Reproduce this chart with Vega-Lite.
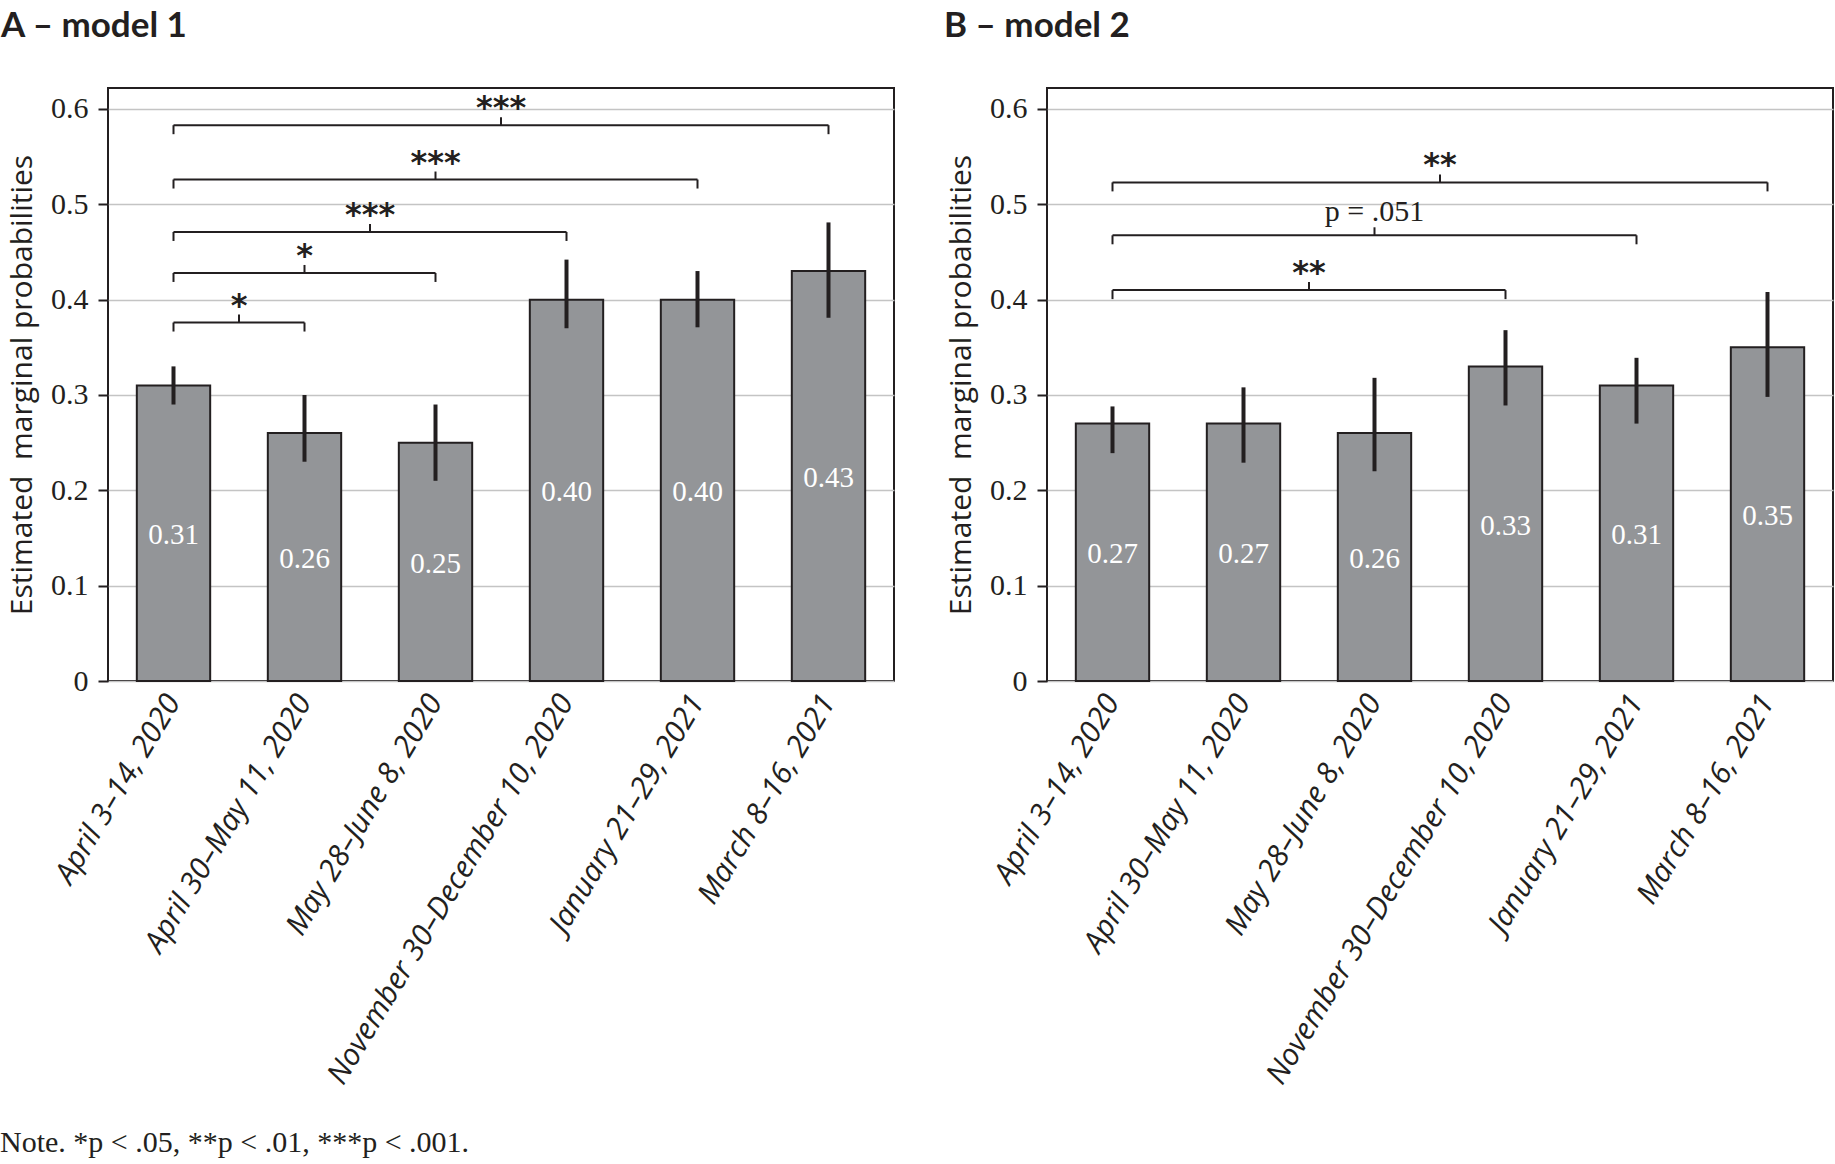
{
  "$schema": "https://vega.github.io/schema/vega-lite/v6.json",
  "background": "white",
  "padding": {"left": 0, "top": 8, "right": 2, "bottom": 2},
  "datasets": {
    "barsA": [
      {"period": "April 3–14, 2020", "value": 0.31, "lo": 0.29, "hi": 0.33},
      {"period": "April 30–May 11, 2020", "value": 0.26, "lo": 0.23, "hi": 0.30},
      {"period": "May 28–June 8, 2020", "value": 0.25, "lo": 0.21, "hi": 0.29},
      {"period": "November 30–December 10, 2020", "value": 0.40, "lo": 0.37, "hi": 0.442},
      {"period": "January 21–29, 2021", "value": 0.40, "lo": 0.371, "hi": 0.43},
      {"period": "March 8–16, 2021", "value": 0.43, "lo": 0.381, "hi": 0.481}
    ],
    "barsB": [
      {"period": "April 3–14, 2020", "value": 0.27, "lo": 0.239, "hi": 0.288},
      {"period": "April 30–May 11, 2020", "value": 0.27, "lo": 0.229, "hi": 0.308},
      {"period": "May 28–June 8, 2020", "value": 0.26, "lo": 0.22, "hi": 0.318},
      {"period": "November 30–December 10, 2020", "value": 0.33, "lo": 0.289, "hi": 0.368},
      {"period": "January 21–29, 2021", "value": 0.31, "lo": 0.27, "hi": 0.339},
      {"period": "March 8–16, 2021", "value": 0.35, "lo": 0.298, "hi": 0.408}
    ],
    "brA": [
      {"from": 1, "to": 6, "level": 0.583, "label": "***"},
      {"from": 1, "to": 5, "level": 0.526, "label": "***"},
      {"from": 1, "to": 4, "level": 0.471, "label": "***"},
      {"from": 1, "to": 3, "level": 0.428, "label": "*"},
      {"from": 1, "to": 2, "level": 0.376, "label": "*"}
    ],
    "brB": [
      {"from": 1, "to": 6, "level": 0.523, "label": "**"},
      {"from": 1, "to": 5, "level": 0.4675, "label": "p = .051"},
      {"from": 1, "to": 4, "level": 0.41, "label": "**"}
    ]
  },
  "title": {
    "text": "Note. *p < .05, **p < .01, ***p < .001.",
    "orient": "bottom",
    "anchor": "start",
    "frame": "bounds",
    "font": "Liberation Serif",
    "fontSize": 30,
    "fontWeight": "normal",
    "color": "#231f20",
    "offset": 38
  },
  "bounds": "flush",
  "spacing": 153,
  "hconcat": [
    {
      "title": {"text": "A – model 1", "anchor": "start", "frame": "group", "dx": -107, "offset": 44, "font": "Lato", "fontSize": 35, "fontWeight": "bold", "color": "#231f20"},
      "width": 786,
      "height": 593,
      "resolve": {"scale": {"x": "independent", "y": "independent"}},
      "layer": [
        {
          "data": {"name": "barsA"},
          "mark": {"type": "bar", "fill": "#939598", "stroke": "#231f20", "strokeWidth": 2},
          "encoding": {
            "x": {"field": "period", "type": "nominal", "sort": null,
              "scale": {"paddingInner": 0.44, "paddingOuter": 0.22},
              "axis": {"title": null, "labelAngle": -59, "labelAlign": "right", "labelBaseline": "middle", "ticks": false, "domain": false, "labelFont": "Open Sans", "labelFontStyle": "italic", "labelFontSize": 30, "labelPadding": 16, "labelColor": "#231f20", "labelLimit": 0, "labelOverlap": false, "grid": false}},
            "y": {"field": "value", "type": "quantitative",
              "scale": {"domain": [0, 0.622], "nice": false, "zero": true},
              "axis": {"title": "Estimated\u00a0 marginal probabilities", "values": [0, 0.1, 0.2, 0.3, 0.4, 0.5, 0.6], "labelExpr": "datum.value == 0 ? '0' : format(datum.value, '.1f')", "grid": true, "gridColor": "#c4c4c4", "gridWidth": 1.5, "domain": false, "ticks": true, "tickSize": 10, "tickWidth": 2, "tickColor": "#231f20", "labelFont": "Liberation Serif", "labelFontSize": 30, "labelColor": "#231f20", "labelPadding": 10, "titleFont": "Open Sans", "titleFontSize": 30, "titleFontWeight": "normal", "titleColor": "#231f20", "titlePadding": 13}}
          }
        },
        {
          "data": {"name": "barsA"},
          "mark": {"type": "rule", "color": "#231f20", "strokeWidth": 4},
          "encoding": {
            "x": {"field": "period", "type": "nominal", "sort": null, "scale": {"type": "band", "paddingInner": 0.44, "paddingOuter": 0.22}, "axis": null},
            "y": {"field": "lo", "type": "quantitative", "scale": {"domain": [0, 0.622], "nice": false}, "axis": null},
            "y2": {"field": "hi"}
          }
        },
        {
          "data": {"name": "barsA"},
          "mark": {"type": "text", "color": "white", "font": "Liberation Serif", "fontSize": 29, "baseline": "middle", "dy": 2},
          "encoding": {
            "x": {"field": "period", "type": "nominal", "sort": null, "scale": {"type": "band", "paddingInner": 0.44, "paddingOuter": 0.22}, "axis": null},
            "y": {"field": "value", "type": "quantitative", "scale": {"domain": [0, 1.244], "nice": false}, "axis": null},
            "text": {"field": "value", "type": "quantitative", "format": ".2f"}
          }
        },
        {
          "data": {"name": "brA"},
          "mark": {"type": "rule", "color": "#231f20", "strokeWidth": 2},
          "encoding": {
            "x": {"field": "from", "type": "quantitative", "scale": {"domain": [0.5, 6.5], "nice": false, "zero": false}, "axis": null},
            "x2": {"field": "to"},
            "y": {"field": "level", "type": "quantitative", "scale": {"domain": [0, 0.622], "nice": false}, "axis": null}
          }
        },
        {
          "data": {"name": "brA"},
          "transform": [{"fold": ["from", "to"], "as": ["end", "pos"]}],
          "mark": {"type": "rule", "color": "#231f20", "strokeWidth": 2, "y2Offset": 9},
          "encoding": {
            "x": {"field": "pos", "type": "quantitative", "scale": {"domain": [0.5, 6.5], "nice": false, "zero": false}, "axis": null},
            "y": {"field": "level", "type": "quantitative", "scale": {"domain": [0, 0.622], "nice": false}, "axis": null},
            "y2": {"field": "level"}
          }
        },
        {
          "data": {"name": "brA"},
          "transform": [{"fold": ["from", "to"], "as": ["end", "pos"]}, {"aggregate": [{"op": "mean", "field": "pos", "as": "mid"}], "groupby": ["level", "label"]}],
          "mark": {"type": "rule", "color": "#231f20", "strokeWidth": 2, "y2Offset": -8},
          "encoding": {
            "x": {"field": "mid", "type": "quantitative", "scale": {"domain": [0.5, 6.5], "nice": false, "zero": false}, "axis": null},
            "y": {"field": "level", "type": "quantitative", "scale": {"domain": [0, 0.622], "nice": false}, "axis": null},
            "y2": {"field": "level"}
          }
        },
        {
          "data": {"name": "brA"},
          "transform": [{"fold": ["from", "to"], "as": ["end", "pos"]}, {"aggregate": [{"op": "mean", "field": "pos", "as": "mid"}], "groupby": ["level", "label"]}],
          "mark": {"type": "text", "color": "#231f20", "font": "DejaVu Sans", "fontWeight": "bold", "fontSize": 32, "baseline": "alphabetic", "dy": -7},
          "encoding": {
            "x": {"field": "mid", "type": "quantitative", "scale": {"domain": [0.5, 6.5], "nice": false, "zero": false}, "axis": null},
            "y": {"field": "level", "type": "quantitative", "scale": {"domain": [0, 0.622], "nice": false}, "axis": null},
            "text": {"field": "label"}
          }
        }
      ]
    },
    {
      "title": {"text": "B – model 2", "anchor": "start", "frame": "group", "dx": -103, "offset": 44, "font": "Lato", "fontSize": 35, "fontWeight": "bold", "color": "#231f20"},
      "width": 786,
      "height": 593,
      "resolve": {"scale": {"x": "independent", "y": "independent"}},
      "layer": [
        {
          "data": {"name": "barsB"},
          "mark": {"type": "bar", "fill": "#939598", "stroke": "#231f20", "strokeWidth": 2},
          "encoding": {
            "x": {"field": "period", "type": "nominal", "sort": null,
              "scale": {"paddingInner": 0.44, "paddingOuter": 0.22},
              "axis": {"title": null, "labelAngle": -59, "labelAlign": "right", "labelBaseline": "middle", "ticks": false, "domain": false, "labelFont": "Open Sans", "labelFontStyle": "italic", "labelFontSize": 30, "labelPadding": 16, "labelColor": "#231f20", "labelLimit": 0, "labelOverlap": false, "grid": false}},
            "y": {"field": "value", "type": "quantitative",
              "scale": {"domain": [0, 0.622], "nice": false, "zero": true},
              "axis": {"title": "Estimated\u00a0 marginal probabilities", "values": [0, 0.1, 0.2, 0.3, 0.4, 0.5, 0.6], "labelExpr": "datum.value == 0 ? '0' : format(datum.value, '.1f')", "grid": true, "gridColor": "#c4c4c4", "gridWidth": 1.5, "domain": false, "ticks": true, "tickSize": 10, "tickWidth": 2, "tickColor": "#231f20", "labelFont": "Liberation Serif", "labelFontSize": 30, "labelColor": "#231f20", "labelPadding": 10, "titleFont": "Open Sans", "titleFontSize": 30, "titleFontWeight": "normal", "titleColor": "#231f20", "titlePadding": 13}}
          }
        },
        {
          "data": {"name": "barsB"},
          "mark": {"type": "rule", "color": "#231f20", "strokeWidth": 4},
          "encoding": {
            "x": {"field": "period", "type": "nominal", "sort": null, "scale": {"type": "band", "paddingInner": 0.44, "paddingOuter": 0.22}, "axis": null},
            "y": {"field": "lo", "type": "quantitative", "scale": {"domain": [0, 0.622], "nice": false}, "axis": null},
            "y2": {"field": "hi"}
          }
        },
        {
          "data": {"name": "barsB"},
          "mark": {"type": "text", "color": "white", "font": "Liberation Serif", "fontSize": 29, "baseline": "middle", "dy": 2},
          "encoding": {
            "x": {"field": "period", "type": "nominal", "sort": null, "scale": {"type": "band", "paddingInner": 0.44, "paddingOuter": 0.22}, "axis": null},
            "y": {"field": "value", "type": "quantitative", "scale": {"domain": [0, 1.244], "nice": false}, "axis": null},
            "text": {"field": "value", "type": "quantitative", "format": ".2f"}
          }
        },
        {
          "data": {"name": "brB"},
          "mark": {"type": "rule", "color": "#231f20", "strokeWidth": 2},
          "encoding": {
            "x": {"field": "from", "type": "quantitative", "scale": {"domain": [0.5, 6.5], "nice": false, "zero": false}, "axis": null},
            "x2": {"field": "to"},
            "y": {"field": "level", "type": "quantitative", "scale": {"domain": [0, 0.622], "nice": false}, "axis": null}
          }
        },
        {
          "data": {"name": "brB"},
          "transform": [{"fold": ["from", "to"], "as": ["end", "pos"]}],
          "mark": {"type": "rule", "color": "#231f20", "strokeWidth": 2, "y2Offset": 9},
          "encoding": {
            "x": {"field": "pos", "type": "quantitative", "scale": {"domain": [0.5, 6.5], "nice": false, "zero": false}, "axis": null},
            "y": {"field": "level", "type": "quantitative", "scale": {"domain": [0, 0.622], "nice": false}, "axis": null},
            "y2": {"field": "level"}
          }
        },
        {
          "data": {"name": "brB"},
          "transform": [{"fold": ["from", "to"], "as": ["end", "pos"]}, {"aggregate": [{"op": "mean", "field": "pos", "as": "mid"}], "groupby": ["level", "label"]}],
          "mark": {"type": "rule", "color": "#231f20", "strokeWidth": 2, "y2Offset": -8},
          "encoding": {
            "x": {"field": "mid", "type": "quantitative", "scale": {"domain": [0.5, 6.5], "nice": false, "zero": false}, "axis": null},
            "y": {"field": "level", "type": "quantitative", "scale": {"domain": [0, 0.622], "nice": false}, "axis": null},
            "y2": {"field": "level"}
          }
        },
        {
          "data": {"name": "brB"},
          "transform": [{"fold": ["from", "to"], "as": ["end", "pos"]}, {"aggregate": [{"op": "mean", "field": "pos", "as": "mid"}], "groupby": ["level", "label"]}, {"filter": "indexof(datum.label, '*') >= 0"}],
          "mark": {"type": "text", "color": "#231f20", "font": "DejaVu Sans", "fontWeight": "bold", "fontSize": 32, "baseline": "alphabetic", "dy": -7},
          "encoding": {
            "x": {"field": "mid", "type": "quantitative", "scale": {"domain": [0.5, 6.5], "nice": false, "zero": false}, "axis": null},
            "y": {"field": "level", "type": "quantitative", "scale": {"domain": [0, 0.622], "nice": false}, "axis": null},
            "text": {"field": "label"}
          }
        },
        {
          "data": {"name": "brB"},
          "transform": [{"fold": ["from", "to"], "as": ["end", "pos"]}, {"aggregate": [{"op": "mean", "field": "pos", "as": "mid"}], "groupby": ["level", "label"]}, {"filter": "indexof(datum.label, '*') < 0"}],
          "mark": {"type": "text", "color": "#231f20", "font": "Liberation Serif", "fontSize": 30, "baseline": "alphabetic", "dy": -14},
          "encoding": {
            "x": {"field": "mid", "type": "quantitative", "scale": {"domain": [0.5, 6.5], "nice": false, "zero": false}, "axis": null},
            "y": {"field": "level", "type": "quantitative", "scale": {"domain": [0, 0.622], "nice": false}, "axis": null},
            "text": {"field": "label"}
          }
        }
      ]
    }
  ],
  "config": {
    "view": {"stroke": "#231f20", "strokeWidth": 2},
    "text": {"color": "#231f20"}
  }
}
